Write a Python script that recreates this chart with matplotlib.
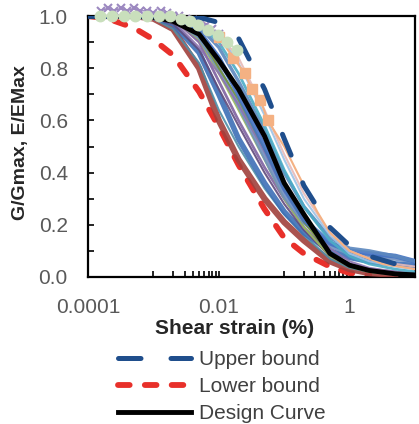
import numpy as np
import matplotlib
matplotlib.use("Agg")
import matplotlib.pyplot as plt
from matplotlib.ticker import FixedLocator, NullFormatter

plt.rcParams['font.family'] = ['Liberation Sans', 'DejaVu Sans']

nan = np.nan
# common strain grid (%) for the curves
strain = [1e-4, 2e-4, 5e-4, 1e-3, 2e-3, 5e-3, 0.01, 0.02, 0.05, 0.1, 0.2, 0.5, 1, 2, 5, 10]

upper_bound = [1.0, 1.0, 1.0, 1.0, 1.0, 0.995, 0.975, 0.915, 0.72, 0.53, 0.35, 0.19, 0.12, 0.08, 0.05, 0.035]
lower_bound = [1.0, 0.99, 0.955, 0.91, 0.85, 0.71, 0.575, 0.43, 0.26, 0.15, 0.09, 0.04, 0.015, 0.008, nan, nan]
design_curve = [1.0, 1.0, 1.0, 0.995, 0.98, 0.93, 0.83, 0.72, 0.54, 0.36, 0.24, 0.09, 0.045, 0.025, 0.012, 0.008]

# test curves (colour, width, values on strain grid)
test_curves = [
    ("#A0403C", 4.5, [1.0, 1.0, 1.0, 0.99, 0.95, 0.80, 0.60, 0.45, 0.30, 0.21, 0.14, 0.06, 0.03, 0.015, 0.008, nan]),
    ("#4F8FA8", 1.5, [1.0, 1.0, 1.0, 0.99, 0.95, 0.82, 0.64, 0.50, 0.34, 0.24, 0.16, 0.07, 0.035, 0.02, 0.01, 0.006]),
    ("#3D6FB6", 4.0, [1.0, 1.0, 1.0, 0.995, 0.97, 0.86, 0.70, 0.53, 0.36, 0.25, 0.17, 0.10, 0.075, 0.06, 0.05, 0.045]),
    ("#604A7B", 1.5, [1.0, 1.0, 1.0, 0.99, 0.97, 0.87, 0.72, 0.58, 0.40, 0.28, 0.18, 0.08, 0.04, 0.025, 0.015, nan]),
    ("#7E62A0", 2.0, [1.02, 1.02, 1.02, 1.01, 0.99, 0.90, 0.75, 0.60, 0.42, 0.30, 0.19, 0.09, 0.05, 0.03, 0.02, nan]),
    ("#9BBB59", 1.5, [1.0, 1.0, 1.0, 1.0, 0.99, 0.91, 0.78, 0.64, 0.45, 0.30, 0.19, 0.08, 0.04, 0.02, 0.01, nan]),
    ("#6F8FBF", 3.0, [1.0, 1.0, 1.0, 1.0, 0.99, 0.92, 0.80, 0.66, 0.46, 0.31, 0.21, 0.12, 0.09, 0.08, 0.07, 0.06]),
    ("#8D74B0", 1.5, [1.0, 1.0, 1.0, 1.0, 0.98, 0.88, 0.78, 0.66, 0.48, 0.33, 0.22, 0.11, 0.06, 0.035, 0.02, 0.015]),
    ("#77933C", 1.5, [1.0, 1.0, 1.0, 1.0, 0.99, 0.93, 0.80, 0.68, 0.49, 0.34, 0.21, 0.09, 0.04, 0.02, 0.01, 0.005]),
    ("#4472C4", 3.5, [1.0, 1.0, 1.0, 1.0, 0.99, 0.94, 0.84, 0.70, 0.50, 0.34, 0.22, 0.13, 0.10, 0.09, 0.08, 0.06]),
    ("#5B87BE", 2.5, [1.0, 1.0, 1.0, 1.0, 1.0, 0.96, 0.88, 0.75, 0.56, 0.40, 0.27, 0.15, 0.11, 0.10, 0.08, 0.06]),
    ("#4BACC6", 2.0, [1.0, 1.0, 1.0, 1.0, 1.0, 0.97, 0.90, 0.78, 0.58, 0.41, 0.27, 0.14, 0.08, 0.05, 0.03, 0.02]),
    ("#9DC3E6", 1.5, [1.0, 1.0, 1.0, 1.0, 1.0, 0.98, 0.93, 0.82, 0.62, 0.45, 0.30, 0.16, 0.09, 0.06, 0.04, 0.03]),
    ("#E6B9B8", 1.5, [1.0, 1.0, 1.0, 1.0, 1.0, 0.99, 0.93, 0.84, 0.64, 0.47, 0.32, 0.17, 0.10, 0.07, 0.05, 0.04]),
]

# marker series
circle_strain = [1.5e-4, 2.3e-4, 3.5e-4, 5.2e-4, 8e-4, 1.2e-3, 1.8e-3, 2.6e-3, 3.6e-3, 4.8e-3, 6.8e-3, 9.8e-3, 1.35e-2, 1.9e-2]
circle_g = [1.0, 1.0, 1.0, 1.0, 1.0, 1.0, 1.0, 0.99, 0.98, 0.965, 0.946, 0.927, 0.90, 0.87]

square_strain = [1e-4, 1e-3, 3.2e-3, 6.3e-3, 0.01, 0.0166, 0.025, 0.032, 0.043, 0.056, 0.1, 0.2, 0.32, 0.5, 1, 3.2, 10]
square_g = [1.0, 1.0, 0.99, 0.96, 0.92, 0.84, 0.78, 0.72, 0.68, 0.60, 0.50, 0.35, 0.25, 0.17, 0.10, 0.05, 0.03]

cross_strain = [1.6e-4, 2e-4, 2.5e-4, 3.2e-4, 4e-4, 5e-4, 6.3e-4, 7.9e-4, 1e-3, 1.3e-3, 1.6e-3, 2e-3,
                2.5e-3, 3.2e-3, 4e-3, 5e-3, 6.3e-3, 7.9e-3, 1e-2, 1.26e-2]
cross_g = [1.02, 1.03, 1.02, 1.03, 1.02, 1.03, 1.02, 1.02, 1.01, 1.02, 1.01, 1.0,
           1.0, 0.99, 0.985, 0.975, 0.965, 0.95, 0.93, 0.90]

x_major = [1e-4, 1e-2, 1]
x_labels = ["0.0001", "0.01", "1"]
y_major = [0.0, 0.2, 0.4, 0.6, 0.8, 1.0]
y_labels = ["0.0", "0.2", "0.4", "0.6", "0.8", "1.0"]

fig = plt.figure(figsize=(4.19, 4.24), dpi=100)
ax = fig.add_axes([88/419, 1-277/424, (415-88)/419, (277-16)/424])

ax.plot(strain, lower_bound, color="#E8302A", lw=4.2, dashes=(2.0, 2.6),
        dash_capstyle='round', zorder=2, label="Lower bound")
for c, lw, vals in test_curves:
    ax.plot(strain, vals, color=c, lw=lw, alpha=0.9, zorder=3)
ax.plot(square_strain, square_g, color="#F4B183", lw=1.5, marker='s', ms=7,
        markevery=list(range(4, 10)), mec="#F4B183", zorder=4)
ax.plot(cross_strain, cross_g, color="#9C88C0", lw=1.0, marker='x', ms=6, mew=1.5,
        zorder=5, clip_on=False)
ax.plot(strain, design_curve, color="black", lw=3.5, zorder=5, label="Design Curve")
ax.plot(strain, upper_bound, color="#1F4E8C", lw=3.6, dashes=(4.5, 6.0),
        dash_capstyle='round', zorder=6, label="Upper bound")
ax.plot(circle_strain, circle_g, color="#C9DFBC", lw=1.5, marker='o', ms=7.5,
        mec="#C9DFBC", zorder=7, clip_on=False)

ax.set_xscale('log')
ax.set_xlim(1e-4, 10)
ax.set_ylim(0, 1.0)
ax.xaxis.set_major_locator(FixedLocator(x_major))
ax.set_xticklabels(x_labels)
minor_x = [k * 1e-3 for k in range(2, 10)] + [k * 1e-1 for k in range(1, 10)] + [1e-3]
ax.xaxis.set_minor_locator(FixedLocator(minor_x))
ax.xaxis.set_minor_formatter(NullFormatter())
ax.set_yticks(y_major)
ax.set_yticklabels(y_labels)
ax.yaxis.set_minor_locator(FixedLocator([0.1, 0.3, 0.5, 0.7, 0.9]))
ax.tick_params(which='both', direction='in', length=4, width=1.2, color='black',
               labelsize=15, labelcolor='#595959')
ax.tick_params(axis='x', which='both', pad=15)
ax.tick_params(axis='y', which='both', pad=14.5)
for s in ax.spines.values():
    s.set_linewidth(1.6)
    s.set_color('black')

fig.text(235/419, 1-328/424, "Shear strain (%)", ha='center', va='center',
         fontsize=15, fontweight='bold', color='#262626')
fig.text(20/419, 1-143/424, "G/Gmax, E/EMax", ha='center', va='center',
         rotation=90, fontsize=14, fontweight='bold', color='#262626')

handles, labels = ax.get_legend_handles_labels()
order = [labels.index(l) for l in ["Upper bound", "Lower bound", "Design Curve"]]
fig.legend([handles[i] for i in order], [labels[i] for i in order],
           loc='upper left', bbox_to_anchor=(118/419, 1-350/424),
           frameon=False, fontsize=15, handlelength=3.5, handletextpad=0.4,
           labelspacing=0.38, borderpad=0, borderaxespad=0, labelcolor='#404040')

fig.savefig("out.png", dpi=100)
